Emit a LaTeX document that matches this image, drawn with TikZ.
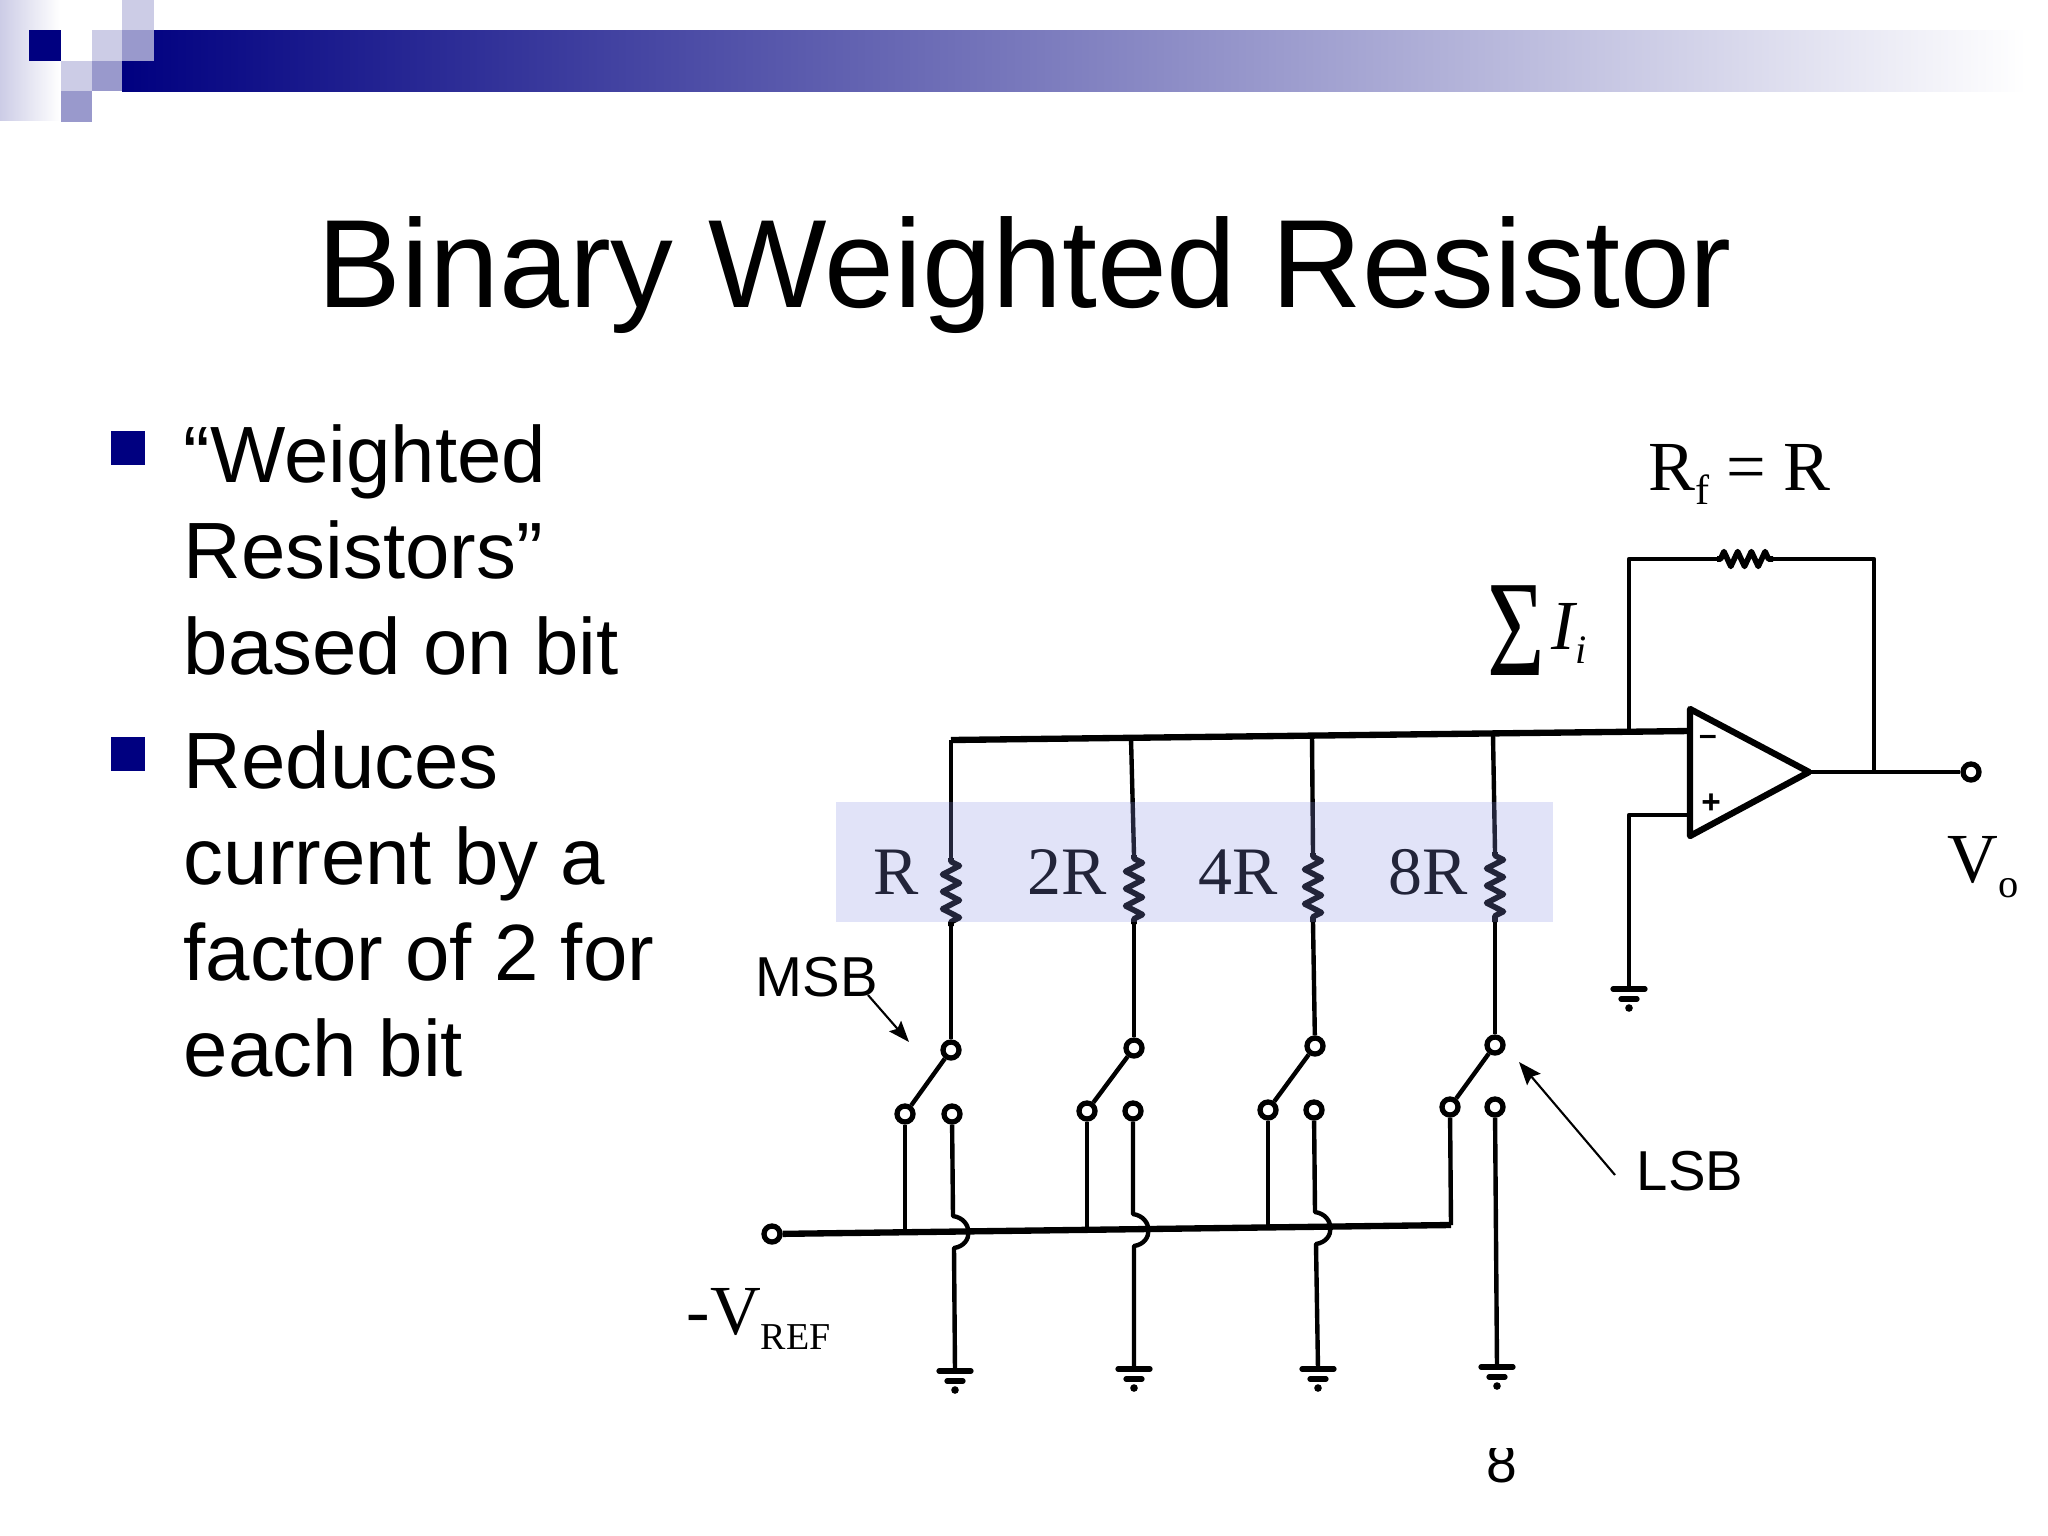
\documentclass[tikz,border=0pt]{standalone}
\usepackage{fontspec}
\usepackage{tikz}
\usepackage{xcolor}
\usetikzlibrary{calc}
\usetikzlibrary{positioning}
\usetikzlibrary{arrows.meta}
\usetikzlibrary{decorations.pathmorphing}
\setmainfont{Liberation Sans}
\newfontfamily\serifface{Liberation Serif}
\definecolor{navyblue}{HTML}{000080}
\definecolor{midblue}{HTML}{9999CC}
\definecolor{paleblue}{HTML}{CCCCE6}
\definecolor{bandblue}{HTML}{8890E4}
\tikzset{
  wire/.style={line width=1.25pt,line join=round},
  thickwire/.style={line width=1.8pt,line join=round},
  resistor/.style={line width=1.6pt,line join=round,decorate,decoration={zigzag,segment length=4.9pt,amplitude=2.4pt,pre length=1pt,post length=1pt}},
  contact/.style={circle,draw,fill=white,line width=1.5pt,minimum size=0.16cm,inner sep=0pt},
  titletext/.style={font=\fontsize{35.7}{36}\selectfont,inner sep=0pt,anchor=base},
  bullettext/.style={font=\fontsize{22.7}{27.3}\selectfont,inner sep=0pt,anchor=north west,align=left},
  bitlabel/.style={font=\fontsize{16}{16}\selectfont,inner sep=0pt,anchor=base west},
  seriftext/.style={font=\serifface\fontsize{20}{21}\selectfont,inner sep=0pt,anchor=base west},
  gnd/.pic={
    \draw[line width=1.5pt,line cap=round] (-16,0) -- (16,0);
    \draw[line width=1.5pt,line cap=round] (-8,10) -- (8,10);
    \fill (0,19) circle (3.8);
  }
}
\begin{document}
\begin{tikzpicture}[x=0.01cm,y=-0.01cm]
\useasboundingbox (0,0) rectangle (2048,1536);
\fill[white] (0,0) rectangle (2048,1536);

\shade[left color=paleblue,right color=white,shading angle=90] (0,0) rectangle (60,120);
\shade[left color=navyblue,middle color=midblue!85!navyblue,right color=white] (122,30) rectangle (2026,91);
\fill[white] (122,30) rectangle (154,61);
\fill[navyblue] (29,30) rectangle (61,61);
\fill[paleblue] (92,30) rectangle (122,61);
\fill[midblue] (122,30) rectangle (154,61);
\fill[paleblue] (122,0) rectangle (154,30);
\fill[paleblue] (61,61) rectangle (92,91);
\fill[midblue] (92,61) rectangle (122,91);
\fill[midblue] (61,91) rectangle (92,122);

\node[titletext] (title) at (1025,307) {Binary Weighted Resistor};
\fill[navyblue] (111,431) rectangle (145,465);
\fill[navyblue] (111,737) rectangle (145,771);
\node[bullettext] (weighted) at (183,424) {“Weighted\\Resistors”\\based on bit};
\node[bullettext] (reduces) at (183,730) {Reduces\\current by a\\factor of 2 for\\each bit};

\coordinate (b1) at (951,740);
\coordinate (b2) at (1131,738);
\coordinate (b3) at (1312,736);
\coordinate (b4) at (1493,735);
\coordinate (bfb) at (1629,733);
\coordinate (inm) at (1690,731);
\coordinate (inp) at (1690,815);
\coordinate (opout) at (1809,772);
\coordinate (optop) at (1690,709);
\coordinate (opbot) at (1690,836);
\coordinate (fbleft) at (1629,559);
\coordinate (fbright) at (1874,559);
\coordinate (fbdown) at (1874,772);
\coordinate (rfa) at (1717,559);
\coordinate (rfb) at (1773,559);
\coordinate (pin) at (1629,815);

\coordinate (r1a) at (951,858);
\coordinate (r1b) at (951,926);
\coordinate (r2a) at (1134,855);
\coordinate (r2b) at (1134,924);
\coordinate (r3a) at (1313,853);
\coordinate (r3b) at (1313,922);
\coordinate (r4a) at (1495,852);
\coordinate (r4b) at (1495,922);

\node[contact] (s1top) at (951,1050) {};
\node[contact] (s2top) at (1134,1048) {};
\node[contact] (s3top) at (1315,1046) {};
\node[contact] (s4top) at (1495,1045) {};
\node[contact] (s1left) at (905,1114) {};
\node[contact] (s2left) at (1087,1111) {};
\node[contact] (s3left) at (1268,1110) {};
\node[contact] (s4left) at (1450,1107) {};
\node[contact] (s1right) at (952,1114) {};
\node[contact] (s2right) at (1133,1111) {};
\node[contact] (s3right) at (1314,1110) {};
\node[contact] (s4right) at (1495,1107) {};
\node[contact] (vref) at (772,1234) {};
\node[contact] (vout) at (1971,772) {};

\coordinate (v1) at (905,1231);
\coordinate (v2) at (1087,1229);
\coordinate (v3) at (1268,1227);
\coordinate (v4) at (1451,1225);
\coordinate (g1) at (955,1371);
\coordinate (g2) at (1134,1369);
\coordinate (g3) at (1318,1369);
\coordinate (g4) at (1497,1367);
\coordinate (g5) at (1629,989);

\draw[thickwire] (b1) -- (inm);
\draw[wire] (b1) -- (r1a);
\draw[wire] (b2) -- (r2a);
\draw[wire] (b3) -- (r3a);
\draw[wire] (b4) -- (r4a);
\draw[resistor] (r1a) -- (r1b);
\draw[resistor] (r2a) -- (r2b);
\draw[resistor] (r3a) -- (r3b);
\draw[resistor] (r4a) -- (r4b);
\draw[wire] (r1b) -- (s1top);
\draw[wire] (r2b) -- (s2top);
\draw[wire] (r3b) -- (s3top);
\draw[wire] (r4b) -- (s4top);
\draw[wire] (s1top) -- (s1left);
\draw[wire] (s2top) -- (s2left);
\draw[wire] (s3top) -- (s3left);
\draw[wire] (s4top) -- (s4left);
\draw[wire] (s1left) -- (v1);
\draw[wire] (s2left) -- (v2);
\draw[wire] (s3left) -- (v3);
\draw[wire] (s4left) -- (v4);
\draw[thickwire] (vref) -- (v4);

\draw[wire] (s1right) -- ++(1,102) .. controls +(20,3) and +(20,-3) .. ++(1,32) -- (g1);
\draw[wire] (s2right) -- ++(0,103) .. controls +(20,3) and +(20,-3) .. ++(1,32) -- (g2);
\draw[wire] (s3right) -- ++(1,102) .. controls +(20,3) and +(20,-3) .. ++(1,32) -- (g3);
\draw[wire] (s4right) -- (g4);

\pic at (g1) {gnd};
\pic at (g2) {gnd};
\pic at (g3) {gnd};
\pic at (g4) {gnd};
\pic at (g5) {gnd};

\draw[wire] (bfb) -- (fbleft) -- (rfa);
\draw[resistor,decoration={segment length=3.9pt,amplitude=2.1pt,pre length=1pt,post length=1pt}] (rfa) -- (rfb);
\draw[wire] (rfb) -- (fbright) -- (fbdown);
\draw[wire] (inp) -- (pin) -- (g5);
\draw[line width=1.8pt,line join=round] (optop) -- (opout) -- (opbot) -- cycle;
\draw[wire] (opout) -- (vout);
\node[font=\bfseries\fontsize{9}{9}\selectfont,inner sep=0pt] (minus) at (1708,740) {–};
\node[font=\bfseries\fontsize{9.5}{10}\selectfont,inner sep=0pt] (plus) at (1711,804) {+};

\node[seriftext] (rf) at (1648,490) {R\raisebox{-4pt}{\fontsize{12}{12}\selectfont f}\hspace{0.24em}=\hspace{0.24em}R};
\node[seriftext,font=\serifface\fontsize{39}{39}\selectfont,xscale=0.72] (sigma) at (1487,675) {Σ};
\node[seriftext,font=\serifface\itshape\fontsize{20}{21}\selectfont] (current) at (1551,649) {I\raisebox{-4pt}{\fontsize{11.5}{12}\selectfont i}};
\node[seriftext] (vo) at (1947,882) {V\raisebox{-4.3pt}{\fontsize{11.5}{12}\selectfont o}};
\node[seriftext] (vreftext) at (686,1334) {-V\raisebox{-4.5pt}{\fontsize{10.8}{11}\selectfont REF}};

\node[seriftext,font=\serifface\fontsize{19.3}{20}\selectfont] (r1text) at (873,894) {R};
\node[seriftext,font=\serifface\fontsize{19.3}{20}\selectfont] (r2text) at (1027,894) {2R};
\node[seriftext,font=\serifface\fontsize{19.3}{20}\selectfont] (r4text) at (1198,894) {4R};
\node[seriftext,font=\serifface\fontsize{19.3}{20}\selectfont] (r8text) at (1388,894) {8R};
\fill[bandblue,opacity=0.25] (836,802) rectangle (1553,922);

\node[bitlabel] (msb) at (755,996) {MSB};
\node[bitlabel] (lsb) at (1636,1190) {LSB};
\coordinate (msbtip) at (909,1042);
\coordinate (lsbtip) at (1519,1062);
\coordinate (msbtail) at (868,995);
\coordinate (lsbtail) at (1615,1175);
\draw[-{Stealth[length=6pt,width=4.5pt,inset=1pt]},line width=0.6pt] (msbtail) -- (msbtip);
\draw[-{Stealth[length=6.5pt,width=5pt,inset=1pt]},line width=0.6pt] (lsbtail) -- (lsbtip);

\begin{scope}
\clip (1470,1448) rectangle (1530,1500);
\node[font=\fontsize{15.7}{16}\selectfont,inner sep=0pt,anchor=base] (pagenum) at (1502,1482) {8};
\end{scope}

\end{tikzpicture}
\end{document}
